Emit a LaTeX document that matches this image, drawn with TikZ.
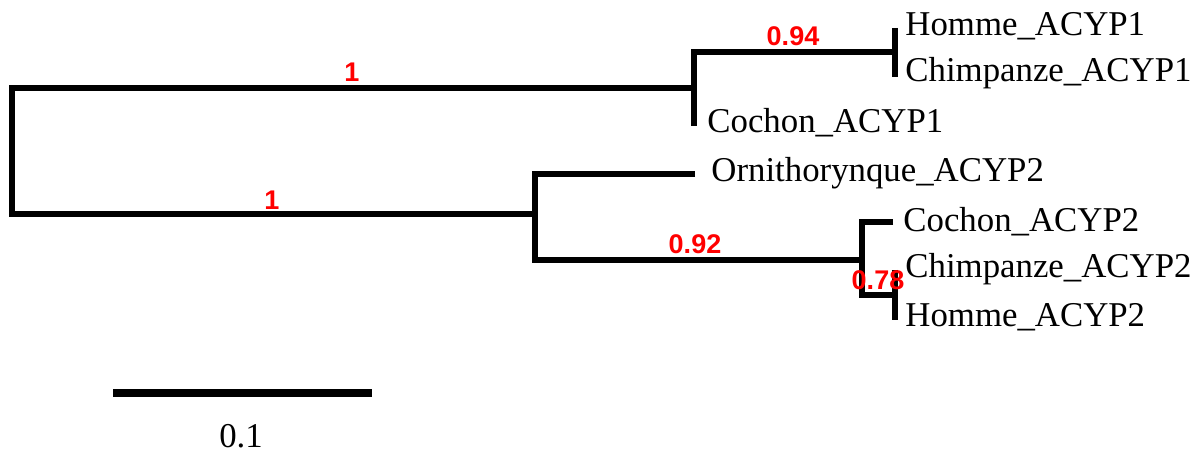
\documentclass[tikz,border=0pt]{standalone}
\usepackage{fontspec}
\setmainfont{Liberation Serif}
\newfontfamily\labfont{Liberation Sans}
\begin{document}
\begin{tikzpicture}[x=0.5pt,y=-0.5pt,
  br/.style={line width=3.1pt, line join=miter, line cap=butt},
  leaf/.style={anchor=base west, inner sep=0pt, font=\fontsize{17.4}{20}\selectfont},
  supp/.style={text=red, inner sep=0pt, font=\labfont\bfseries\fontsize{13.5}{15}\selectfont}]
\useasboundingbox (0,0) rectangle (1200,454);
% internal coordinates
\coordinate (rt) at (12,88);
\coordinate (rb) at (12,214);
\coordinate (t) at (694,88);
\coordinate (ttop) at (694,52);
\coordinate (coc1) at (694,126);
\coordinate (h1) at (895,52);
\coordinate (hom1) at (895,28);
\coordinate (chi1) at (895,77);
\coordinate (b) at (535,214);
\coordinate (btop) at (535,174);
\coordinate (orni) at (695,174);
\coordinate (bbot) at (535,260);
\coordinate (c) at (862,260);
\coordinate (ctop) at (862,222);
\coordinate (coc2) at (893,222);
\coordinate (cbot) at (862,295);
\coordinate (h2) at (895,295);
\coordinate (chi2) at (895,270);
\coordinate (hom2) at (895,320);
% branches
\draw[br] (t) -- (rt) -- (rb) -- (b);
\draw[br] (h1) -- (ttop) -- (coc1);
\draw[br] (hom1) -- (chi1);
\draw[br] (orni) -- (btop) -- (bbot) -- (c);
\draw[br] (coc2) -- (ctop) -- (cbot) -- (h2);
\draw[br] (chi2) -- (hom2);
% leaf labels
\node[leaf] (lhom1) at (905,36) {Homme\_ACYP1};
\node[leaf] (lchi1) at (905,82) {Chimpanze\_ACYP1};
\node[leaf] (lcoc1) at (707,133) {Cochon\_ACYP1};
\node[leaf] (lorni) at (711,182) {Ornithorynque\_ACYP2};
\node[leaf] (lcoc2) at (903,232) {Cochon\_ACYP2};
\node[leaf] (lchi2) at (905,278) {Chimpanze\_ACYP2};
\node[leaf] (lhom2) at (905,327) {Homme\_ACYP2};
% support values
\node[supp] (s1) at (352,72) {1};
\node[supp] (s2) at (272,200) {1};
\node[supp] (s3) at (793,36) {0.94};
\node[supp] (s4) at (695,244) {0.92};
\node[supp] (s5) at (878,280) {0.78};
% scale bar
\coordinate (sbl) at (113,393);
\coordinate (sbr) at (372,393);
\draw[line width=3.6pt] (sbl) -- (sbr);
\node[anchor=base, inner sep=0pt, font=\fontsize{17.4}{20}\selectfont] (sbt) at (241,447) {0.1};
\end{tikzpicture}
\end{document}
